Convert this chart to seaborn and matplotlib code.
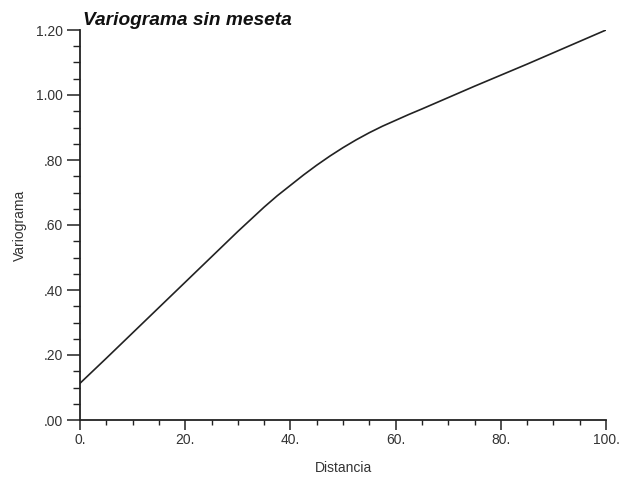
import matplotlib
matplotlib.use("Agg")
import matplotlib.pyplot as plt
import seaborn as sns
import pandas as pd
from matplotlib.ticker import MultipleLocator

distancia = [0, 5, 10, 15, 20, 25, 30, 35, 37.5, 40, 42.5, 45, 47.5, 50, 52.5, 55, 57.5,
             60, 62.5, 65, 70, 75, 80, 85, 90, 95, 100]
variograma = [0.113, 0.19, 0.268, 0.346, 0.424, 0.502, 0.58, 0.655, 0.69, 0.722, 0.754,
              0.784, 0.812, 0.838, 0.862, 0.884, 0.904, 0.922, 0.94, 0.957, 0.992,
              1.027, 1.061, 1.095, 1.13, 1.165, 1.20]

xticks = [0, 20, 40, 60, 80, 100]
xtick_labels = ["0.", "20.", "40.", "60.", "80.", "100."]
yticks = [0.0, 0.2, 0.4, 0.6, 0.8, 1.0, 1.2]
ytick_labels = [".00", ".20", ".40", ".60", ".80", "1.00", "1.20"]

title = "Variograma sin meseta"
xlabel = "Distancia"
ylabel = "Variograma"

sns.set_style("white")
plt.rcParams['font.family'] = ['Liberation Sans', 'DejaVu Sans']

df = pd.DataFrame({"Distancia": distancia, "Variograma": variograma})

fig = plt.figure(figsize=(6.21, 4.83), dpi=100)
ax = fig.add_axes([80/621, 1 - 420/483, (606-80)/621, (420-30)/483])

sns.lineplot(data=df, x="Distancia", y="Variograma", ax=ax, color="#222222", linewidth=1.2)

ax.set_xlim(0, 100)
ax.set_ylim(0, 1.2)
ax.set_xticks(xticks)
ax.set_xticklabels(xtick_labels)
ax.set_yticks(yticks)
ax.set_yticklabels(ytick_labels)
ax.xaxis.set_minor_locator(MultipleLocator(5))
ax.yaxis.set_minor_locator(MultipleLocator(0.05))

for s in ["top", "right"]:
    ax.spines[s].set_visible(False)
for s in ["left", "bottom"]:
    ax.spines[s].set_color("#222222")
    ax.spines[s].set_linewidth(1.3)

ax.tick_params(axis="y", which="major", direction="out", length=9.5, width=1.1,
               color="#222222", labelsize=10, labelcolor="#333333", pad=3, left=True)
ax.tick_params(axis="y", which="minor", direction="out", length=5, width=1.0,
               color="#222222", left=True)
ax.tick_params(axis="x", which="major", direction="out", length=7.5, width=1.1,
               color="#222222", labelsize=10, labelcolor="#333333", pad=2, bottom=True)
ax.tick_params(axis="x", which="minor", direction="out", length=3.5, width=1.0,
               color="#222222", bottom=True)

ax.set_xlabel(xlabel, fontsize=10, color="#333333", labelpad=10)
ax.set_ylabel(ylabel, fontsize=10, color="#333333", labelpad=6)

fig.text(83/621, 1 - 25/483, title, fontsize=13.8, fontweight="bold", fontstyle="italic",
         color="#111111", ha="left", va="baseline")

fig.savefig("out.png", dpi=100)
